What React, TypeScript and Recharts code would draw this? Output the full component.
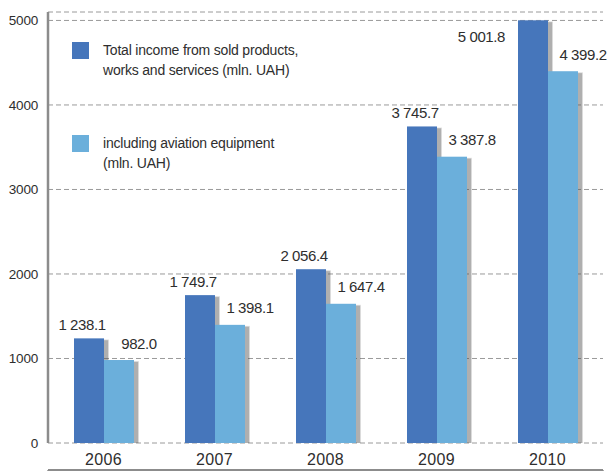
import { Bar, BarChart, CartesianGrid, LabelList, Legend, XAxis, YAxis } from "recharts";

const years = ["2006", "2007", "2008", "2009", "2010"];
const totalIncome = [1238.1, 1749.7, 2056.4, 3745.7, 5001.8];
const aviationIncome = [982.0, 1398.1, 1647.4, 3387.8, 4399.2];
const yTicks = [0, 1000, 2000, 3000, 4000, 5000];
const edgeTicks = [0, 1, 2, 3, 4, 5];
const totalName = ["Total income from sold products,", "works and services (mln. UAH)"];
const aviationName = ["including aviation equipment", "(mln. UAH)"];

const data = years.map((year, i) => ({
  year,
  total: totalIncome[i],
  aviation: aviationIncome[i],
  slot: i + 0.5,
}));

const FONT = "'Liberation Sans', Arial, sans-serif";
const DARK = "#4676bb";
const LIGHT = "#6bafdb";
const AXIS = "#8c8c8c";
const TEXT = "#2e2e2e";

// 1238.1 -> "1 238.1"
function fmt(v: number) {
  const [int, dec] = v.toFixed(1).split(".");
  return int.replace(/\B(?=(\d{3})+(?!\d))/g, " ") + "." + dec;
}

// bar with a soft grey drop shadow to the right and below
function renderShadowBar(props: any) {
  const { x, y, width, height, fill } = props;
  if (!height || height <= 0) return <g />;
  return (
    <g>
      <rect x={x + 1} y={y + 1} width={width + 4} height={height} fill="#555" opacity={0.12} />
      <rect x={x + 1.5} y={y + 1.5} width={width + 3} height={height} fill="#555" opacity={0.18} />
      <rect x={x + 2} y={y + 2} width={width + 2} height={height} fill="#555" opacity={0.25} />
      <rect x={x} y={y} width={width} height={height} fill={fill} />
    </g>
  );
}

function TotalLabel(props: any) {
  const { x, y, width, value } = props;
  // no room above the tallest bar: put the label at its left side
  if (y < 40) {
    return (
      <text x={x - 13} y={y + 16} textAnchor="end" dominantBaseline="central"
        fontFamily={FONT} fontSize={15} letterSpacing={-0.4} fill={TEXT}>
        {fmt(value)}
      </text>
    );
  }
  return (
    <text x={x + width / 2 - 7} y={y - 14} textAnchor="middle" dominantBaseline="central"
      fontFamily={FONT} fontSize={15} letterSpacing={-0.4} fill={TEXT}>
      {fmt(value)}
    </text>
  );
}

function AviationLabel(props: any) {
  const { x, y, width, value } = props;
  return (
    <text x={x + width / 2 + 20} y={y - 17} textAnchor="middle" dominantBaseline="central"
      fontFamily={FONT} fontSize={15} letterSpacing={-0.4} fill={TEXT}>
      {fmt(value)}
    </text>
  );
}

function LegendBox() {
  const items = [
    { color: DARK, lines: totalName },
    { color: LIGHT, lines: aviationName },
  ];
  return (
    <div style={{ fontFamily: FONT, fontSize: 14, letterSpacing: -0.2, color: TEXT, lineHeight: "20px" }}>
      {items.map((it, i) => (
        <div key={i} style={{ display: "flex", alignItems: "flex-start", marginBottom: i === 0 ? 55 : 0 }}>
          <div style={{ width: 17, height: 17, background: it.color, marginRight: 14, flex: "none" }} />
          <div style={{ marginTop: -2 }}>
            {it.lines.map((l, j) => (
              <div key={j}>{l}</div>
            ))}
          </div>
        </div>
      ))}
    </div>
  );
}

export default function App() {
  return (
    <div style={{ width: 613, height: 471, background: "#ffffff" }}>
      <style>{"body{margin:0}"}</style>
      <BarChart
        width={613}
        height={471}
        data={data}
        margin={{ top: 12, right: 10, left: 0, bottom: 0 }}
        barSize={30}
        barGap={0}
      >
        <CartesianGrid
          xAxisId="cat"
          vertical={false}
          stroke="#9a9a9a"
          strokeDasharray="5 3"
        />
        <XAxis
          xAxisId="edges"
          dataKey="slot"
          type="number"
          domain={[0, 5]}
          ticks={edgeTicks}
          height={1}
          tickFormatter={() => ""}
          tickSize={6}
          axisLine={{ stroke: AXIS, strokeWidth: 2 }}
          tickLine={{ stroke: AXIS, strokeWidth: 1.5 }}
        />
        <XAxis
          xAxisId="cat"
          dataKey="year"
          height={27}
          axisLine={false}
          tickLine={false}
          tickSize={0}
          tickMargin={11}
          tick={{ fontFamily: FONT, fontSize: 16, fill: TEXT, letterSpacing: 0.3 }}
        />
        <YAxis
          width={48}
          domain={[0, 5100]}
          ticks={yTicks}
          allowDataOverflow
          tickSize={0}
          tickMargin={10}
          axisLine={{ stroke: AXIS, strokeWidth: 2.5 }}
          tickLine={false}
          tick={{ fontFamily: FONT, fontSize: 13.5, fill: TEXT, letterSpacing: -0.2 }}
        />
        <Legend
          layout="vertical"
          align="center"
          verticalAlign="middle"
          content={<LegendBox />}
          wrapperStyle={{ position: "absolute", top: 42, left: 72, width: 320, height: 140 }}
        />
        <Bar xAxisId="cat" dataKey="total" name={totalName.join(" ")} fill={DARK}
          shape={renderShadowBar} isAnimationActive={false}>
          <LabelList dataKey="total" content={<TotalLabel />} />
        </Bar>
        <Bar xAxisId="cat" dataKey="aviation" name={aviationName.join(" ")} fill={LIGHT}
          shape={renderShadowBar} isAnimationActive={false}>
          <LabelList dataKey="aviation" content={<AviationLabel />} />
        </Bar>
      </BarChart>
    </div>
  );
}
